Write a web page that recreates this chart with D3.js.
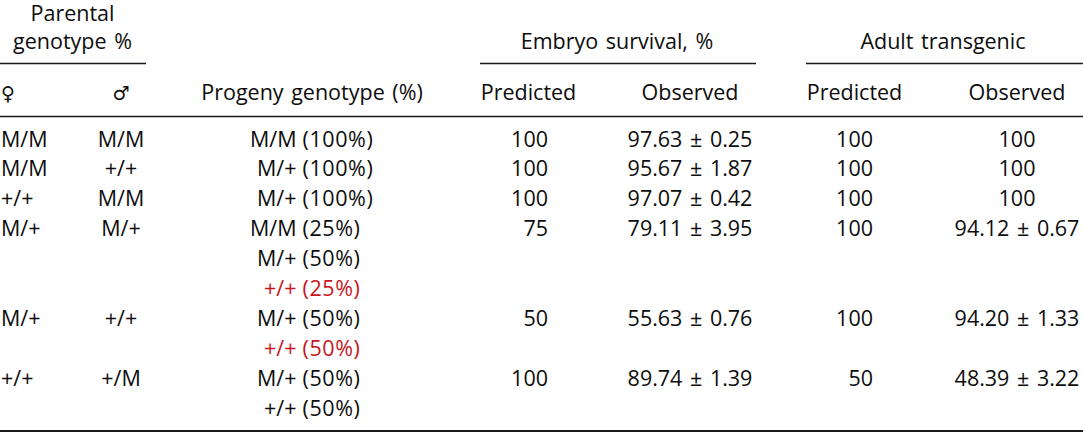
<!DOCTYPE html>
<html>
<head>
<meta charset="utf-8">
<script src="https://cdn.jsdelivr.net/npm/d3@7"></script>
<style>
  html, body { margin: 0; padding: 0; background: #fff; }
  svg { display: block; }
  text { font-family: "Open Sans", "Noto Sans", sans-serif; font-size: 21.5px; fill: #0d0d0d; word-spacing: 2px; }
  text.sym { font-family: "DejaVu Sans", sans-serif; font-size: 19px; }
</style>
</head>
<body>
<svg id="chart" width="1083" height="432"></svg>
<script>
// ---------- data ----------
const femaleGenotype = ["M/M", "M/M", "+/+", "M/+", "M/+", "+/+"];
const maleGenotype   = ["M/M", "+/+", "M/M", "M/+", "+/+", "+/M"];
const progenyGenotype = [["M/M"], ["M/+"], ["M/+"], ["M/M", "M/+", "+/+"], ["M/+", "+/+"], ["M/+", "+/+"]];
const progenyPercent  = [[100], [100], [100], [25, 50, 25], [50, 50], [50, 50]];
const progenyLethal   = [[false], [false], [false], [false, false, true], [false, true], [false, false]];
const embryoPredicted = [100, 100, 100, 75, 50, 100];
const embryoObserved  = [97.63, 95.67, 97.07, 79.11, 55.63, 89.74];
const embryoSE        = [0.25, 1.87, 0.42, 3.95, 0.76, 1.39];
const adultPredicted  = [100, 100, 100, 100, 100, 50];
const adultObserved   = [100, 100, 100, 94.12, 94.20, 48.39];
const adultSE         = [null, null, null, 0.67, 1.33, 3.22];
const groupHeaders    = ["Parental", "genotype %", "Embryo survival, %", "Adult transgenic"];
const columnHeaders   = ["\u2640", "\u2642", "Progeny genotype (%)", "Predicted", "Observed", "Predicted", "Observed"];

// ---------- layout ----------
const svg = d3.select("#chart");
const W = 1083;
const RED = "#c8161d";
const LINE = "#1a1a1a";

// sub-line index -> baseline y
const nLines = d3.sum(progenyGenotype, d => d.length);
const y = d3.scaleLinear().domain([0, nLines - 1]).range([146.5, 146.5 + (nLines - 1) * 29.9]);

// column anchors
const colX = d3.scaleOrdinal()
  .domain(["female", "male", "progSplit", "embPred", "embObs", "adPred", "adObs", "parental", "embryo", "adult"])
  .range([1, 121, 299.5, 548, 690, 873, 1017, 72.5, 617, 943]);

// row start sub-line indices
const rowStart = [];
progenyGenotype.reduce((acc, d, i) => { rowStart[i] = acc; return acc + d.length; }, 0);

const fmt2 = d3.format(".2f");
const fmtObs = (v, se) => se == null ? String(v) : fmt2(v) + " \u00b1 " + fmt2(se);

// ---------- rules ----------
const rules = [
  {x1: 0, x2: 146, y: 63.5, w: 1.4},
  {x1: 480, x2: 756, y: 63.5, w: 1.4},
  {x1: 806, x2: W, y: 63.5, w: 1.4},
  {x1: 0, x2: W, y: 116.5, w: 1.6},
  {x1: 0, x2: W, y: 431, w: 1.8}
];
svg.selectAll("line.rule").data(rules).join("line")
  .attr("class", "rule")
  .attr("x1", d => d.x1).attr("x2", d => d.x2)
  .attr("y1", d => d.y).attr("y2", d => d.y)
  .attr("stroke", LINE).attr("stroke-width", d => d.w);

// ---------- group headers ----------
const gh = [
  {t: groupHeaders[0], x: colX("parental"), y: 20.5},
  {t: groupHeaders[1], x: colX("parental"), y: 48.5},
  {t: groupHeaders[2], x: colX("embryo"), y: 48.5},
  {t: groupHeaders[3], x: colX("adult"), y: 48.5}
];
svg.selectAll("text.gh").data(gh).join("text")
  .attr("class", "gh")
  .attr("x", d => d.x).attr("y", d => d.y)
  .attr("text-anchor", "middle")
  .text(d => d.t);

// ---------- column headers ----------
const ch = [
  {t: columnHeaders[0], x: colX("female"), a: "start", c: "sym"},
  {t: columnHeaders[1], x: colX("male"), a: "middle", c: "sym"},
  {t: columnHeaders[2], x: 312, a: "middle", c: "ch"},
  {t: columnHeaders[3], x: 528.5, a: "middle", c: "ch"},
  {t: columnHeaders[4], x: colX("embObs"), a: "middle", c: "ch"},
  {t: columnHeaders[5], x: 854.5, a: "middle", c: "ch"},
  {t: columnHeaders[6], x: colX("adObs"), a: "middle", c: "ch"}
];
svg.selectAll("text.hdr").data(ch).join("text")
  .attr("class", d => "hdr " + d.c)
  .attr("x", d => d.x).attr("y", 99.5)
  .attr("text-anchor", d => d.a)
  .text(d => d.t);

// ---------- body ----------
const rows = femaleGenotype.map((f, i) => ({
  i, f, m: maleGenotype[i], y: y(rowStart[i]),
  ep: embryoPredicted[i], eo: fmtObs(embryoObserved[i], embryoSE[i]),
  ap: adultPredicted[i], ao: fmtObs(adultObserved[i], adultSE[i])
}));

const cells = [];
rows.forEach(r => {
  cells.push({t: r.f, x: colX("female"), y: r.y, a: "start"});
  cells.push({t: r.m, x: colX("male"), y: r.y, a: "middle"});
  cells.push({t: String(r.ep), x: colX("embPred"), y: r.y, a: "end"});
  cells.push({t: r.eo, x: colX("embObs"), y: r.y, a: "middle"});
  cells.push({t: String(r.ap), x: colX("adPred"), y: r.y, a: "end"});
  cells.push({t: r.ao, x: colX("adObs"), y: r.y, a: "middle"});
});
svg.selectAll("text.cell").data(cells).join("text")
  .attr("class", "cell")
  .attr("x", d => d.x).attr("y", d => d.y)
  .attr("text-anchor", d => d.a)
  .text(d => d.t);

// progeny sub-lines
const prog = [];
progenyGenotype.forEach((g, i) => g.forEach((gt, j) => prog.push({
  g: gt, p: "(" + progenyPercent[i][j] + "%)", red: progenyLethal[i][j], y: y(rowStart[i] + j)
})));
const pg = svg.selectAll("g.prog").data(prog).join("g").attr("class", "prog");
pg.append("text")
  .attr("x", colX("progSplit") - 3).attr("y", d => d.y)
  .attr("text-anchor", "end")
  .style("fill", d => d.red ? RED : null)
  .text(d => d.g);
pg.append("text")
  .attr("x", colX("progSplit") + 3).attr("y", d => d.y)
  .attr("text-anchor", "start")
  .attr("letter-spacing", 0.6)
  .style("fill", d => d.red ? RED : null)
  .text(d => d.p);
</script>
</body>
</html>
